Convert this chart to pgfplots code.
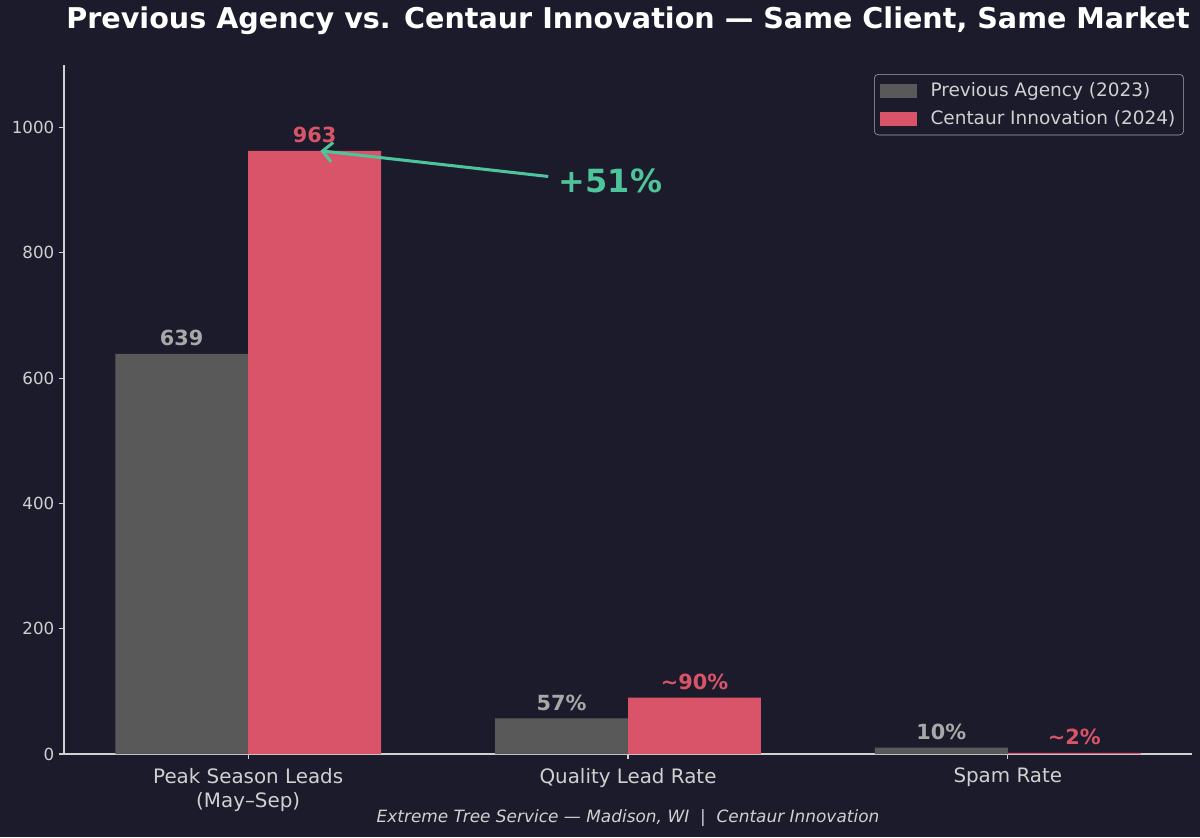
\documentclass[border=0pt]{standalone}
\usepackage{pgfplots}
\pgfplotsset{compat=1.18}
\usepackage{fontspec}
\setmainfont{DejaVu Sans}
\usetikzlibrary{arrows.meta}
\definecolor{bg}{HTML}{1C1B2C}
\definecolor{prevbar}{HTML}{595959}
\definecolor{prevtxt}{HTML}{A8A8A8}
\definecolor{centbar}{HTML}{D95468}
\definecolor{accent}{HTML}{4EC49A}
\definecolor{ticktxt}{HTML}{D0D0D0}
\begin{document}
\begin{tikzpicture}
% background, also the page size (1200x837 px at 0.72pt/px)
\fill[bg, use as bounding box] (-46.08pt,-59.76pt) rectangle (817.92pt,542.88pt);
\begin{axis}[
  at={(0,0)}, anchor=south west,
  scale only axis,
  width=812.16pt, height=496.08pt,
  clip=false,
  xmin=-0.485, xmax=2.485,
  ymin=0, ymax=1100,
  axis x line*=bottom, axis y line*=left,
  axis line style={ticktxt, line width=0.8pt, -},
  xtick={0,1,2},
  xticklabels={{Peak Season Leads\\(May--Sep)},{Quality Lead Rate},{Spam Rate}},
  xticklabel style={align=center, font=\fontsize{14.3}{17.5}\selectfont, text=ticktxt, yshift=-3pt},
  ytick={0,200,400,600,800,1000},
  yticklabel style={font=\fontsize{12}{14}\selectfont, text=ticktxt, /pgf/number format/1000 sep={}},
  /pgf/number format/assume math mode=true,
  tick style={ticktxt, line width=0.8pt},
  tick align=outside, major tick length=3.5pt,
  legend style={at={(rel axis cs:1,1)}, anchor=north east, xshift=-5.8pt, yshift=-6.5pt,
    fill=bg, draw=prevtxt, rounded corners=3pt, text=ticktxt,
    font=\fontsize{13.3}{15}\selectfont, row sep=4.5pt, inner xsep=4pt, inner ysep=4pt},
  legend cell align=left,
  nodes near coords,
  point meta=explicit symbolic,
  every node near coord/.append style={font=\bfseries\fontsize{15}{18}\selectfont, anchor=south, yshift=2pt},
]
\addplot[ybar, bar width=0.35, bar shift=-0.175, fill=prevbar, draw=none,
  every node near coord/.append style={text=prevtxt, xshift=-47.86pt},
  legend image code/.code={\fill[prevbar, sharp corners] (0pt,-5pt) rectangle (27pt,5pt); \path (34.5pt,0pt);}]
  coordinates {(0,639)[639] (1,57)[57\%] (2,10)[10\%]};
\addlegendentry{Previous Agency (2023)}
\addplot[ybar, bar width=0.35, bar shift=0.175, fill=centbar, draw=none,
  every node near coord/.append style={text=centbar, xshift=47.86pt},
  legend image code/.code={\fill[centbar, sharp corners] (0pt,-5pt) rectangle (27pt,5pt); \path (34.5pt,0pt);}]
  coordinates {(0,963)[963] (1,90)[\textasciitilde90\%] (2,2)[\textasciitilde2\%]};
\addlegendentry{Centaur Innovation (2024)}

\draw[accent, line width=2.2pt, -{Straight Barb[length=7pt, width=14pt, line width=2.2pt]}]
  (axis cs:0.79,922) -- (axis cs:0.19,963);
\node[anchor=west, text=accent, font=\bfseries\fontsize{23}{27}\selectfont]
  at (axis cs:0.805,915) {+51\%};

\node[text=white, font=\bfseries\fontsize{20.6}{24}\selectfont]
  at (rel axis cs:0.5,1) [yshift=31.7pt] {Previous Agency vs. Centaur Innovation — Same Client, Same Market};
\node[text=ticktxt, font=\itshape\fontsize{12.2}{14}\selectfont]
  at (rel axis cs:0.5,0) [yshift=-46pt] {Extreme Tree Service — Madison, WI \ | \ Centaur Innovation};
\end{axis}
\end{tikzpicture}
\end{document}
